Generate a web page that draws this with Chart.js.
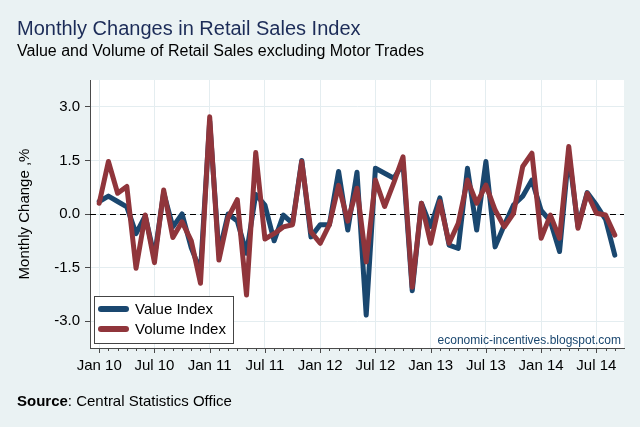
<!DOCTYPE html>
<html><head><meta charset="utf-8">
<script src="https://cdn.jsdelivr.net/npm/chart.js@4.4.1/dist/chart.umd.min.js"></script>
<style>
html,body{margin:0;padding:0;background:#EAF2F3;}
#wrap{position:relative;width:640px;height:427px;overflow:hidden;background:#EAF2F3;font-family:"Liberation Sans",Arial,sans-serif;}
canvas{position:absolute;left:0;top:0;}
.t{position:absolute;white-space:nowrap;line-height:1;}
#title{left:17px;top:17.5px;font-size:20px;color:#1c2c58;}
#sub{left:17px;top:43px;font-size:16px;color:#000;}
#src{left:17px;top:393px;font-size:15px;color:#000;}
#wm{right:19px;top:334px;font-size:12px;color:#1a476f;}
</style></head>
<body><div id="wrap"><canvas id="c" width="640" height="427"></canvas>
<div class="t" id="title">Monthly Changes in Retail Sales Index</div>
<div class="t" id="sub">Value and Volume of Retail Sales excluding Motor Trades</div>
<div class="t" id="wm">economic-incentives.blogspot.com</div>
<div class="t" id="src"><b>Source</b>: Central Statistics Office</div>
</div>
<script>
const months = ["Jan 10","Feb 10","Mar 10","Apr 10","May 10","Jun 10","Jul 10","Aug 10","Sep 10","Oct 10","Nov 10","Dec 10",
"Jan 11","Feb 11","Mar 11","Apr 11","May 11","Jun 11","Jul 11","Aug 11","Sep 11","Oct 11","Nov 11","Dec 11",
"Jan 12","Feb 12","Mar 12","Apr 12","May 12","Jun 12","Jul 12","Aug 12","Sep 12","Oct 12","Nov 12","Dec 12",
"Jan 13","Feb 13","Mar 13","Apr 13","May 13","Jun 13","Jul 13","Aug 13","Sep 13","Oct 13","Nov 13","Dec 13",
"Jan 14","Feb 14","Mar 14","Apr 14","May 14","Jun 14","Jul 14","Aug 14","Sep 14"];
const valueIndex = [0.35,0.5,0.35,0.2,-0.55,-0.05,-1.2,0.6,-0.36,0.0,-0.95,-1.6,
2.6,-1.1,0.0,-0.2,-1.1,0.55,0.25,-0.75,-0.03,-0.26,1.5,-0.64,
-0.3,-0.3,1.19,-0.45,1.17,-2.83,1.28,1.14,1.0,1.42,-2.15,0.3,
-0.35,0.45,-0.87,-0.96,1.28,-0.45,1.47,-0.92,-0.31,0.25,0.5,0.95,
0.1,-0.2,-1.05,1.7,-0.35,0.6,0.25,-0.15,-1.15];
const volumeIndex = [0.3,1.47,0.58,0.77,-1.52,-0.03,-1.36,0.67,-0.66,-0.22,-0.75,-1.94,
2.72,-1.29,-0.1,0.4,-2.27,1.72,-0.7,-0.55,-0.36,-0.3,1.47,-0.5,
-0.82,-0.3,0.8,-0.2,0.72,-1.34,0.95,0.21,0.88,1.6,-2.05,0.3,
-0.82,0.35,-0.82,-0.26,0.95,0.3,0.81,0.11,-0.36,0.02,1.33,1.7,
-0.68,-0.03,-0.68,1.89,-0.4,0.58,0.02,-0.03,-0.59];
const seriesNames = ["Value Index","Volume Index"];
const seriesColors = ["#1a476f","#90353b"];
const yTicks = [-3.0,-1.5,0.0,1.5,3.0];
const majorMonths = ["Jan","Jul"];

const FONT = '"Liberation Sans",Arial,sans-serif';
const GRID = '#E4EDF0';
const AXIS = '#4a4a4a';
const isMajor = i => months[i] !== undefined && majorMonths.includes(months[i].slice(0,3));

const plotBg = {id:'plotBg', beforeDraw(chart){const {ctx,chartArea:a}=chart;ctx.save();ctx.fillStyle='#fff';ctx.fillRect(a.left,a.top,a.right-a.left,a.bottom-a.top);ctx.restore();}};
const zeroLine = {id:'zeroLine', beforeDatasetsDraw(chart){const {ctx,chartArea:a}=chart;const y=Math.round(chart.scales.y.getPixelForValue(0))+0.5;ctx.save();ctx.strokeStyle='#000';ctx.lineWidth=1.2;ctx.setLineDash([6,4]);ctx.beginPath();ctx.moveTo(a.left,y);ctx.lineTo(a.right,y);ctx.stroke();ctx.restore();}};
const xTicks = {id:'xTicks', afterDraw(chart){const {ctx}=chart;const s=chart.scales.x;ctx.save();ctx.strokeStyle=AXIS;ctx.lineWidth=1;months.forEach((m,i)=>{const x=Math.round(s.getPixelForValue(i))+0.5;const len=isMajor(i)?5:3;ctx.beginPath();ctx.moveTo(x,s.top);ctx.lineTo(x,s.top+len);ctx.stroke();});ctx.restore();}};
const boxLegend = {id:'boxLegend', afterDatasetsDraw(chart){const {ctx}=chart;ctx.save();
  const L=94.5,T=296.5,W=139,H=47;ctx.fillStyle='#fff';ctx.fillRect(L,T,W,H);ctx.strokeStyle='#444';ctx.lineWidth=1;ctx.strokeRect(L,T,W,H);
  chart.data.datasets.forEach((d,k)=>{const y=309+k*20;ctx.strokeStyle=d.borderColor;ctx.lineWidth=6;ctx.lineCap='round';ctx.beginPath();ctx.moveTo(101,y);ctx.lineTo(126,y);ctx.stroke();
    ctx.fillStyle='#000';ctx.font='15px '+FONT;ctx.textBaseline='middle';ctx.fillText(d.label,135,y+0.5);});
  ctx.restore();}};

new Chart(document.getElementById('c'),{
  type:'line',
  data:{datasets:[
    {label:seriesNames[0],data:valueIndex.map((v,i)=>({x:i,y:v})),borderColor:seriesColors[0],borderWidth:5,pointRadius:0,tension:0,borderJoinStyle:'round',borderCapStyle:'round',order:1},
    {label:seriesNames[1],data:volumeIndex.map((v,i)=>({x:i,y:v})),borderColor:seriesColors[1],borderWidth:5,pointRadius:0,tension:0,borderJoinStyle:'round',borderCapStyle:'round',order:0}
  ]},
  options:{
    responsive:false,animation:false,devicePixelRatio:1,
    layout:{padding:{left:16,top:80,right:16,bottom:49}},
    plugins:{legend:{display:false},tooltip:{enabled:false}},
    scales:{
      x:{type:'linear',min:-1,max:57,
        afterBuildTicks:s=>{s.ticks=months.map((m,i)=>({value:i}));},
        afterFit:s=>{s.height=30;},
        ticks:{autoSkip:false,maxRotation:0,minRotation:0,padding:9,color:'#000',font:{family:FONT,size:15},callback:v=>isMajor(v)?months[v]:''},
        grid:{drawTicks:false,color:c=>(c.tick&&isMajor(c.tick.value))?GRID:'rgba(0,0,0,0)',lineWidth:1},
        border:{color:AXIS,width:1}},
      y:{min:-3.75,max:3.75,
        afterBuildTicks:s=>{s.ticks=yTicks.map(v=>({value:v}));},
        afterFit:s=>{s.width=74;},
        ticks:{padding:5,color:'#000',font:{family:FONT,size:15},callback:v=>Number(v).toFixed(1)},
        grid:{color:GRID,lineWidth:1,tickLength:5,tickColor:AXIS},
        border:{color:AXIS,width:1},
        title:{display:true,text:'Monthly Change ,%',color:'#000',font:{family:FONT,size:15},padding:0}}
    }
  },
  plugins:[plotBg,zeroLine,xTicks,boxLegend]
});
</script>
</body></html>
